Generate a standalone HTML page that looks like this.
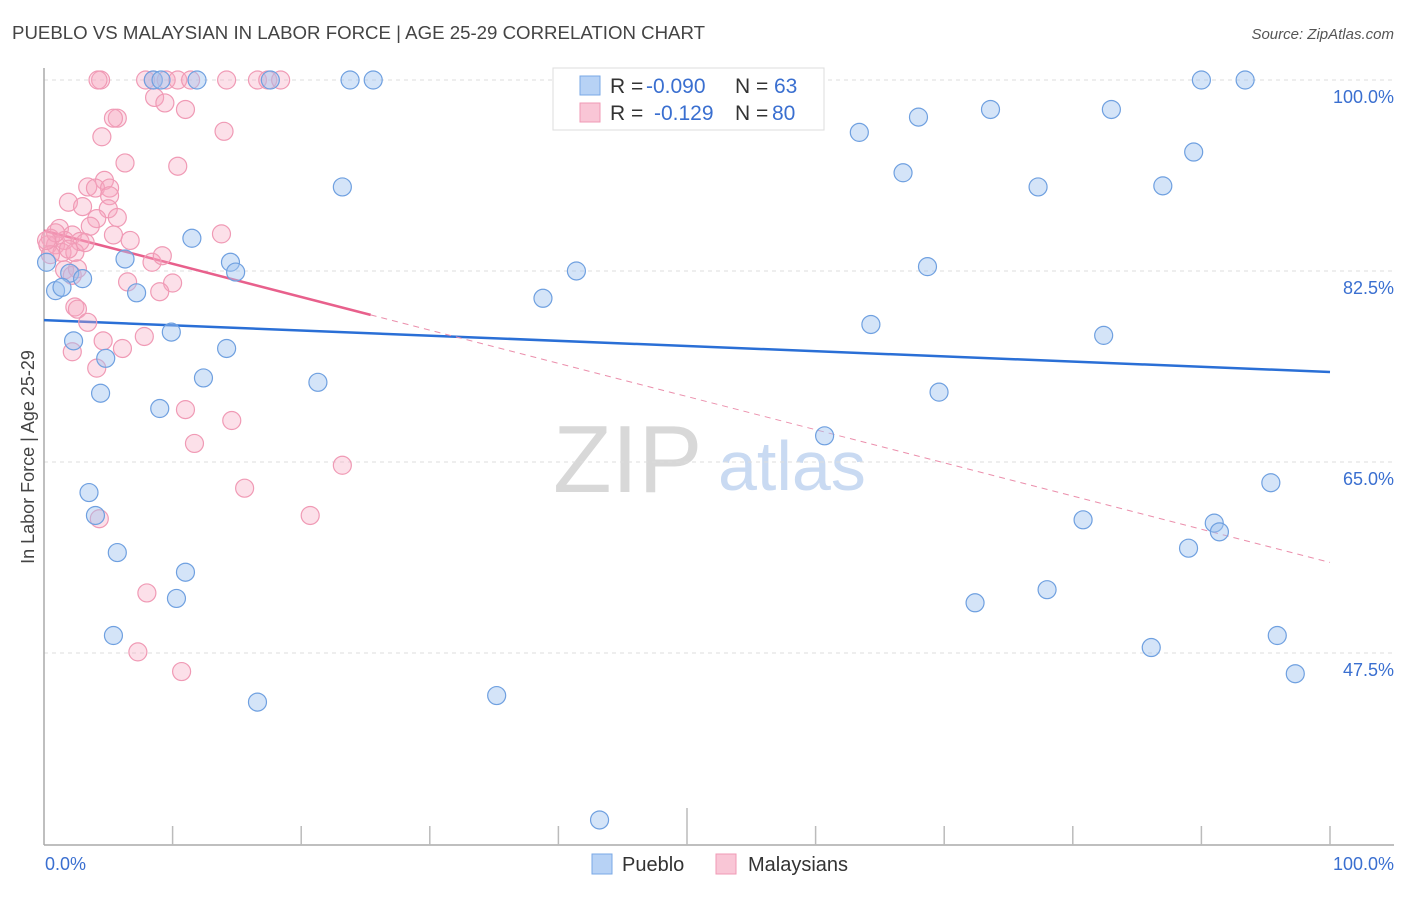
<!DOCTYPE html>
<html><head><meta charset="utf-8">
<style>
body{margin:0;background:#fff;font-family:"Liberation Sans",sans-serif;}
svg text{font-family:"Liberation Sans",sans-serif;}
</style></head>
<body>
<svg id="chart" width="1406" height="892" viewBox="0 0 1406 892" xmlns="http://www.w3.org/2000/svg">
<text x="12" y="39" font-size="18" fill="#444" textLength="693" lengthAdjust="spacingAndGlyphs">PUEBLO VS MALAYSIAN IN LABOR FORCE | AGE 25-29 CORRELATION CHART</text>
<text x="1394" y="39" font-size="15" fill="#555" text-anchor="end" font-style="italic">Source: ZipAtlas.com</text>
<g>
<text x="553" y="492" font-size="96" fill="#d8d8d8" font-family="Liberation Serif" >ZIP</text>
<text x="718" y="490" font-size="70" fill="#c9daf2">atlas</text>
</g>
<g id="grid"></g>
<g id="axes"></g>
<g id="trends"></g>
<g id="pts"></g>
<text transform="translate(34,457) rotate(-90)" font-size="18" fill="#444" text-anchor="middle">In Labor Force | Age 25-29</text>
<text x="45" y="870" font-size="18" fill="#3a6fd0">0.0%</text>
<text x="1394" y="870" font-size="18" fill="#3a6fd0" text-anchor="end">100.0%</text>
<g>
<rect x="553" y="68" width="271" height="62" fill="#fff" stroke="#ddd"/>
<rect x="580" y="76" width="20" height="19" fill="#b7d2f5" stroke="#7aa8e6"/>
<rect x="580" y="103" width="20" height="19" fill="#f9c6d6" stroke="#f09ab5"/>
<text x="610" y="93" font-size="21" fill="#333">R =</text>
<text x="646" y="93" font-size="21" fill="#3a6fd0">-0.090</text>
<text x="735" y="93" font-size="21" fill="#333">N =</text>
<text x="774" y="93" font-size="21" fill="#3a6fd0">63</text>
<text x="610" y="120" font-size="21" fill="#333">R =</text>
<text x="654" y="120" font-size="21" fill="#3a6fd0">-0.129</text>
<text x="735" y="120" font-size="21" fill="#333">N =</text>
<text x="772" y="120" font-size="21" fill="#3a6fd0">80</text>
</g>
<g>
<rect x="592" y="854" width="20" height="20" fill="#b7d2f5" stroke="#7aa8e6"/>
<text x="622" y="871" font-size="20" fill="#333">Pueblo</text>
</g>
<g>
<rect x="716" y="854" width="20" height="20" fill="#f9c6d6" stroke="#f09ab5"/>
<text x="748" y="871" font-size="20" fill="#333">Malaysians</text>
</g>
</svg>
<script>
const yTicks=[100,82.5,65,47.5];
const yTickLabels=["100.0%","82.5%","65.0%","47.5%"];
const blueX=[8.5,9.1,11.9,17.6,23.8,25.6,45.6,90.0,93.4,73.6,83.0,68.0,63.4,89.4,66.8,87.0,77.3,23.2,11.5,6.3,14.5,14.9,41.4,68.7,0.2,2.0,3.0,0.9,1.4,7.2,38.8,64.3,82.4,9.9,2.3,4.8,14.2,12.4,21.3,4.4,69.6,9.0,60.7,95.4,3.5,4.0,80.8,91.0,91.4,89.0,5.7,11.0,10.3,78.0,72.4,5.4,95.9,86.1,97.3,35.2,16.6,43.2];
const blueY=[100,100,100,100,100,100,100.2,100,100,97.3,97.3,96.6,95.2,93.4,91.5,90.3,90.2,90.2,85.5,83.6,83.3,82.4,82.5,82.9,83.3,82.3,81.8,80.7,81.0,80.5,80.0,77.6,76.6,76.9,76.1,74.5,75.4,72.7,72.3,71.3,71.4,69.9,67.4,63.1,62.2,60.1,59.7,59.4,58.6,57.1,56.7,54.9,52.5,53.3,52.1,49.1,49.1,48.0,45.6,43.6,43.0,32.2];
const pinkX=[4.4,4.2,7.9,8.5,9.5,10.4,11.4,14.2,16.6,17.4,18.4,8.6,9.4,11.0,5.7,5.4,4.5,14.0,6.3,10.4,4.7,3.4,4.0,5.1,5.1,1.9,3.0,5.0,4.1,5.7,3.6,5.4,6.7,13.8,1.2,2.2,0.5,0.9,1.6,2.8,0.3,1.4,2.4,0.5,3.2,1.6,2.2,8.4,9.2,10.0,6.5,9.0,2.6,2.4,2.6,3.4,4.6,2.2,7.8,6.1,4.1,11.0,14.6,11.7,23.2,15.6,20.7,4.3,8.0,7.3,10.7,0.9,1.9,0.2];
const pinkY=[100,100,100,100,100,100,100,100,100,100,100,98.4,97.9,97.3,96.5,96.5,94.8,95.3,92.4,92.1,90.8,90.2,90.1,90.1,89.4,88.8,88.4,88.2,87.3,87.4,86.6,85.8,85.3,85.9,86.4,85.8,85.5,84.9,85.3,85.2,84.9,84.2,84.2,84.0,85.1,82.6,82.1,83.3,83.9,81.4,81.5,80.6,82.7,79.2,79.0,77.8,76.1,75.1,76.5,75.4,73.6,69.8,68.8,66.7,64.7,62.6,60.1,59.8,53.0,47.6,45.8,86.0,84.5,85.3];
const blueTrend=[78.0,73.25];   // y at x=0, x=100
const pinkTrend=[86.2,55.8];    // y at x=0, x=100
const pinkSolidEnd=25.4;

const NS="http://www.w3.org/2000/svg";
const X0=44,X1=1330,Y100=80,PPU=10.914;
const sx=v=>X0+(X1-X0)*v/100;
const sy=v=>Y100+(100-v)*PPU;
function mk(tag,attrs,parent){const e=document.createElementNS(NS,tag);for(const k in attrs)e.setAttribute(k,attrs[k]);parent.appendChild(e);return e;}
const grid=document.getElementById('grid'),axes=document.getElementById('axes'),trends=document.getElementById('trends'),pts=document.getElementById('pts');
yTicks.forEach((t,i)=>{
  const l=mk('line',{x1:X0,x2:1394,y1:sy(t),y2:sy(t),stroke:'#ddd','stroke-dasharray':'4,4'},grid);
  
  
  const tx=mk('text',{x:1394,y:sy(t)+23,'font-size':18,fill:'#3a6fd0','text-anchor':'end'},grid);
  tx.textContent=yTickLabels[i];
  
  
});
const a1=mk('line',{x1:X0,x2:X0,y1:68,y2:845,stroke:'#aaa','stroke-width':1.5},axes);


const a2=mk('line',{x1:X0,x2:1394,y1:845,y2:845,stroke:'#aaa','stroke-width':1.5},axes);


for(let k=1;k<=10;k++){
  const t=mk('line',{x1:sx(k*10),x2:sx(k*10),y1:k==5?808:826,y2:845,stroke:'#bbb','stroke-width':1.5},axes);
  
  
}
const bt=mk('line',{x1:sx(0),y1:sy(blueTrend[0]),x2:sx(100),y2:sy(blueTrend[1]),stroke:'#2a6fd6','stroke-width':2.5},trends);


const pyAt=x=>pinkTrend[0]+(pinkTrend[1]-pinkTrend[0])*x/100;
const pt=mk('line',{x1:sx(0),y1:sy(pyAt(0)),x2:sx(pinkSolidEnd),y2:sy(pyAt(pinkSolidEnd)),stroke:'#e8608c','stroke-width':2.5},trends);


const pd=mk('line',{x1:sx(pinkSolidEnd),y1:sy(pyAt(pinkSolidEnd)),x2:sx(100),y2:sy(pyAt(100)),stroke:'#eb8fac','stroke-width':1,'stroke-dasharray':'6,5'},trends);


pinkX.forEach((x,i)=>{
  const c=mk('circle',{cx:sx(x),cy:sy(pinkY[i]),r:9,fill:'rgba(245,165,192,0.35)',stroke:'#f09ab5','stroke-width':1.2},pts);
  
  
});
blueX.forEach((x,i)=>{
  const c=mk('circle',{cx:sx(x),cy:sy(blueY[i]),r:9,fill:'rgba(160,196,240,0.45)',stroke:'#6fa0e0','stroke-width':1.2},pts);
  
  
});
</script>
</body></html>
